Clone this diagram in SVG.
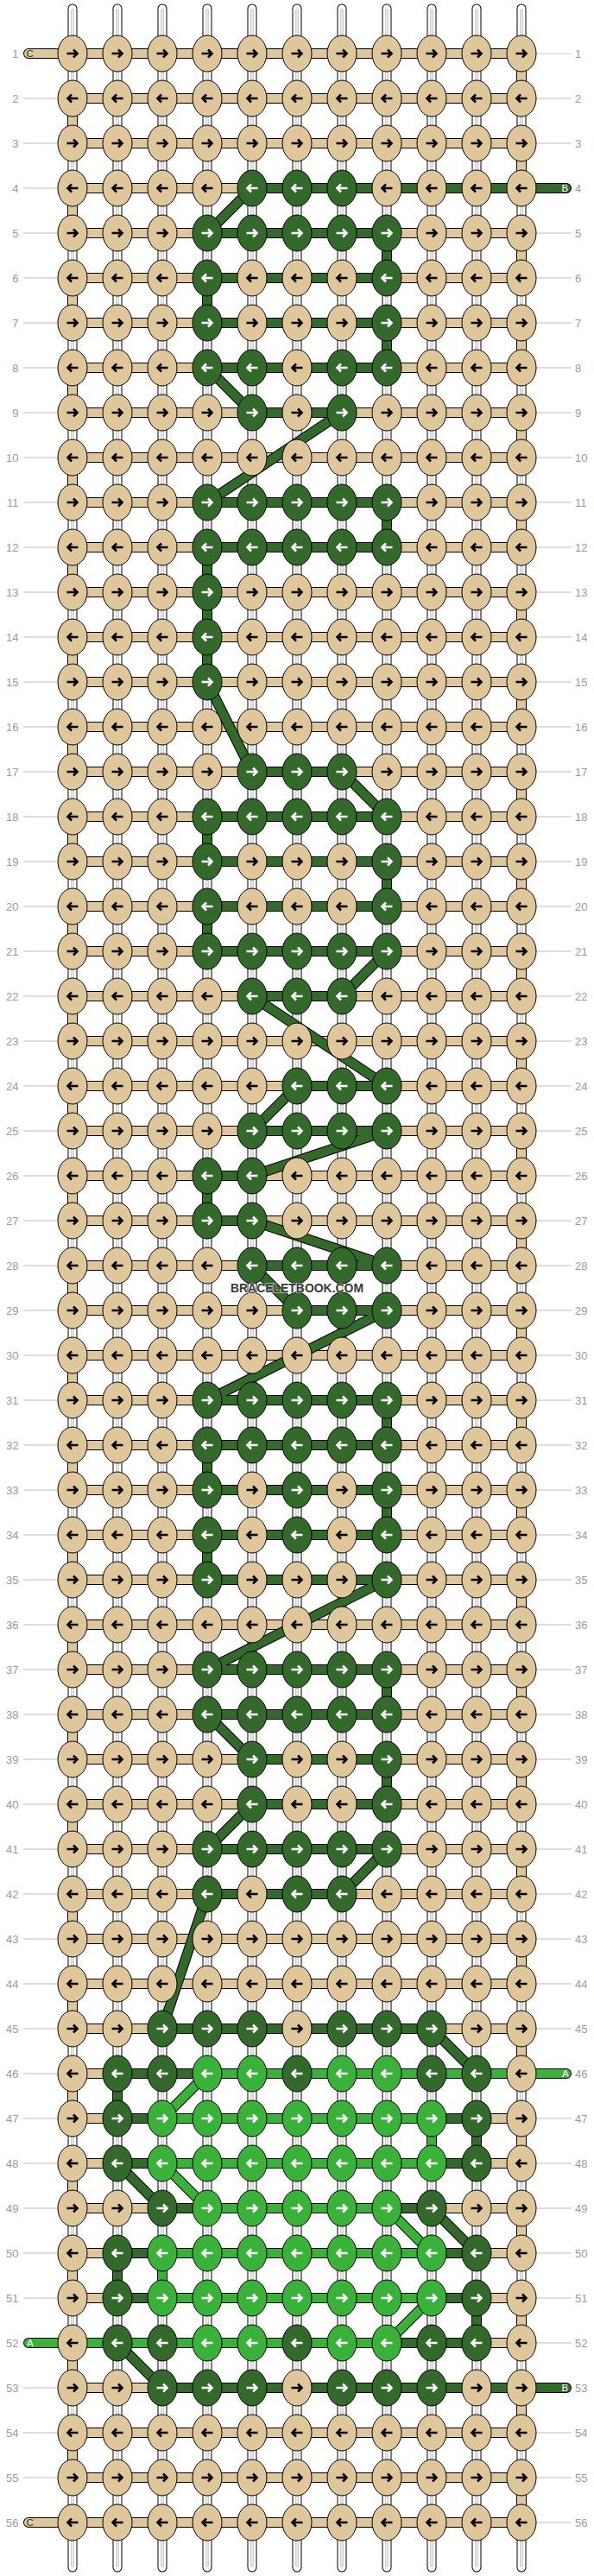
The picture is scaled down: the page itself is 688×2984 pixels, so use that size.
<svg xmlns="http://www.w3.org/2000/svg" width="688" height="2984" viewBox="0 0 688 2984">
<style>
.lbl{font-family:"Liberation Sans",Arial,sans-serif;font-size:13px;fill:#9a9a9a}
.endl{font-family:"Liberation Sans",Arial,sans-serif;font-size:11.5px}
#knots{fill:#E0C69B;color:#000}
.d{fill:#33692A;color:#fff}
.l{fill:#3AB23A;color:#fff}
.blk{fill:none;stroke:#000;stroke-linecap:round;stroke-linejoin:round}
.col{fill:none;stroke-linecap:round;stroke-linejoin:round}
</style>
<defs>
<g id="R"><ellipse rx="17" ry="21" stroke="#000" stroke-width="1"/><path d="M-6.5,0H5M1,-4.5L5.5,0L1,4.5" fill="none" stroke="currentColor" stroke-width="2.6"/></g>
<g id="L"><ellipse rx="17" ry="21" stroke="#000" stroke-width="1"/><path d="M6.5,0H-5M-1,-4.5L-5.5,0L-1,4.5" fill="none" stroke="currentColor" stroke-width="2.6"/></g>
<pattern id="lp" x="0" y="61.5" width="688" height="52" patternUnits="userSpaceOnUse"><rect x="0" y="0" width="688" height="1" fill="#bdbdbd"/></pattern>
<path id="pW" d="M84,10V2974M136,10V2974M188,10V2974M240,10V2974M292,10V2974M344,10V2974M396,10V2974M448,10V2974M500,10V2974M552,10V2974M604,10V2974"/>
<path id="pWg" d="M84,12V2972M136,12V2972M188,12V2972M240,12V2972M292,12V2972M344,12V2972M396,12V2972M448,12V2972M500,12V2972M552,12V2972M604,12V2972"/>
<path id="pC" d="M33,62H604V114H84V166H604V218H84V270H604V322H84V374H604V426H84V478H604V530H84V582H604V634H84V686H604V738H84V790H604V842H84V894H604V946H84V998H604V1050H84V1102H604V1154H84V1206H604V1258H84V1310H604V1362H84V1414H604V1466H84V1518H604V1570H84V1622H604V1674H84V1726H604V1778H84V1830H604V1882H84V1934H604V1986H84V2038H604V2090H84V2142H604V2194H84V2246H604V2298H84V2350H604V2402H84V2454H604V2506H84V2558H604V2610H84V2662H604V2714H84V2766H604V2818H84V2870H604V2922H33"/>
<path id="pB" d="M656,218H292L240,270H448V322H240V374H448V426H240L292,478H396L240,582H448V634H240V686V738V790L292,894H396L448,946H240V998H448V1050H240V1102H448L396,1154H292L448,1258H344L292,1310H448L292,1362H240V1414H292L448,1466H292L344,1518H448L240,1622H448V1674H240V1726H448V1778H240V1830H448L240,1934H448V1986H240L292,2038H448V2090H292L240,2142H448L396,2194H240L188,2350H500L552,2402H136V2454H552V2506H136L188,2558H500L552,2610H136V2662H552V2714H136L188,2766H656"/>
<path id="pA" d="M656,2402H240L188,2454H500V2506H188L240,2558H448L500,2610H188V2662H500L448,2714H33"/>
</defs>
<rect width="688" height="2984" fill="#fff"/>
<g id="row-lines">
<rect x="27" y="61.5" width="40" height="2862" fill="url(#lp)"/>
<rect x="621" y="61.5" width="41" height="2862" fill="url(#lp)"/>
</g>
<g id="row-numbers-left" class="lbl" text-anchor="end">
<text x="21.5" y="66.5">1</text><text x="21.5" y="118.5">2</text><text x="21.5" y="170.5">3</text><text x="21.5" y="222.5">4</text><text x="21.5" y="274.5">5</text><text x="21.5" y="326.5">6</text><text x="21.5" y="378.5">7</text><text x="21.5" y="430.5">8</text><text x="21.5" y="482.5">9</text><text x="21.5" y="534.5">10</text><text x="21.5" y="586.5">11</text><text x="21.5" y="638.5">12</text><text x="21.5" y="690.5">13</text><text x="21.5" y="742.5">14</text><text x="21.5" y="794.5">15</text><text x="21.5" y="846.5">16</text><text x="21.5" y="898.5">17</text><text x="21.5" y="950.5">18</text><text x="21.5" y="1002.5">19</text><text x="21.5" y="1054.5">20</text><text x="21.5" y="1106.5">21</text><text x="21.5" y="1158.5">22</text><text x="21.5" y="1210.5">23</text><text x="21.5" y="1262.5">24</text><text x="21.5" y="1314.5">25</text><text x="21.5" y="1366.5">26</text><text x="21.5" y="1418.5">27</text><text x="21.5" y="1470.5">28</text><text x="21.5" y="1522.5">29</text><text x="21.5" y="1574.5">30</text><text x="21.5" y="1626.5">31</text><text x="21.5" y="1678.5">32</text><text x="21.5" y="1730.5">33</text><text x="21.5" y="1782.5">34</text><text x="21.5" y="1834.5">35</text><text x="21.5" y="1886.5">36</text><text x="21.5" y="1938.5">37</text><text x="21.5" y="1990.5">38</text><text x="21.5" y="2042.5">39</text><text x="21.5" y="2094.5">40</text><text x="21.5" y="2146.5">41</text><text x="21.5" y="2198.5">42</text><text x="21.5" y="2250.5">43</text><text x="21.5" y="2302.5">44</text><text x="21.5" y="2354.5">45</text><text x="21.5" y="2406.5">46</text><text x="21.5" y="2458.5">47</text><text x="21.5" y="2510.5">48</text><text x="21.5" y="2562.5">49</text><text x="21.5" y="2614.5">50</text><text x="21.5" y="2666.5">51</text><text x="21.5" y="2718.5">52</text><text x="21.5" y="2770.5">53</text><text x="21.5" y="2822.5">54</text><text x="21.5" y="2874.5">55</text><text x="21.5" y="2926.5">56</text>
</g>
<g id="row-numbers-right" class="lbl" text-anchor="start">
<text x="666" y="66.5">1</text><text x="666" y="118.5">2</text><text x="666" y="170.5">3</text><text x="666" y="222.5">4</text><text x="666" y="274.5">5</text><text x="666" y="326.5">6</text><text x="666" y="378.5">7</text><text x="666" y="430.5">8</text><text x="666" y="482.5">9</text><text x="666" y="534.5">10</text><text x="666" y="586.5">11</text><text x="666" y="638.5">12</text><text x="666" y="690.5">13</text><text x="666" y="742.5">14</text><text x="666" y="794.5">15</text><text x="666" y="846.5">16</text><text x="666" y="898.5">17</text><text x="666" y="950.5">18</text><text x="666" y="1002.5">19</text><text x="666" y="1054.5">20</text><text x="666" y="1106.5">21</text><text x="666" y="1158.5">22</text><text x="666" y="1210.5">23</text><text x="666" y="1262.5">24</text><text x="666" y="1314.5">25</text><text x="666" y="1366.5">26</text><text x="666" y="1418.5">27</text><text x="666" y="1470.5">28</text><text x="666" y="1522.5">29</text><text x="666" y="1574.5">30</text><text x="666" y="1626.5">31</text><text x="666" y="1678.5">32</text><text x="666" y="1730.5">33</text><text x="666" y="1782.5">34</text><text x="666" y="1834.5">35</text><text x="666" y="1886.5">36</text><text x="666" y="1938.5">37</text><text x="666" y="1990.5">38</text><text x="666" y="2042.5">39</text><text x="666" y="2094.5">40</text><text x="666" y="2146.5">41</text><text x="666" y="2198.5">42</text><text x="666" y="2250.5">43</text><text x="666" y="2302.5">44</text><text x="666" y="2354.5">45</text><text x="666" y="2406.5">46</text><text x="666" y="2458.5">47</text><text x="666" y="2510.5">48</text><text x="666" y="2562.5">49</text><text x="666" y="2614.5">50</text><text x="666" y="2666.5">51</text><text x="666" y="2718.5">52</text><text x="666" y="2770.5">53</text><text x="666" y="2822.5">54</text><text x="666" y="2874.5">55</text><text x="666" y="2926.5">56</text>
</g>
<g id="connectors">
<g id="base-strings">
<use href="#pW" class="blk" stroke-width="11"/>
<use href="#pW" class="col" stroke="#fff" stroke-width="9"/>
<use href="#pWg" class="col" stroke="#c2c2c2" stroke-width="3.5" stroke-linecap="butt"/>
<use href="#pWg" class="col" stroke="#fff" stroke-width="1.2" stroke-linecap="butt"/>
</g>
<g id="string-C">
<use href="#pC" class="blk" stroke-width="12"/>
<use href="#pC" class="col" stroke="#E0C69B" stroke-width="10"/>
</g>
<g id="string-B">
<use href="#pB" class="blk" stroke-width="12"/>
<use href="#pB" class="col" stroke="#33692A" stroke-width="10"/>
</g>
<g id="string-A">
<use href="#pA" class="blk" stroke-width="12"/>
<use href="#pA" class="col" stroke="#3AB23A" stroke-width="10"/>
</g>
</g>
<g id="string-ends" class="endl">
<text x="30.5" y="66" fill="#333">C</text>
<text x="30.5" y="2926" fill="#333">C</text>
<text x="650.5" y="222" fill="#fff">B</text>
<text x="650.5" y="2770" fill="#fff">B</text>
<text x="651" y="2406" fill="#fff">A</text>
<text x="31" y="2718" fill="#fff">A</text>
</g>
<g id="knots">
<g id="r1" transform="translate(0,62)"><g id="k1-1"><use href="#R" x="84"/></g><g id="k1-2"><use href="#R" x="136"/></g><g id="k1-3"><use href="#R" x="188"/></g><g id="k1-4"><use href="#R" x="240"/></g><g id="k1-5"><use href="#R" x="292"/></g><g id="k1-6"><use href="#R" x="344"/></g><g id="k1-7"><use href="#R" x="396"/></g><g id="k1-8"><use href="#R" x="448"/></g><g id="k1-9"><use href="#R" x="500"/></g><g id="k1-10"><use href="#R" x="552"/></g><g id="k1-11"><use href="#R" x="604"/></g></g>
<g id="r2" transform="translate(0,114)"><g id="k2-1"><use href="#L" x="84"/></g><g id="k2-2"><use href="#L" x="136"/></g><g id="k2-3"><use href="#L" x="188"/></g><g id="k2-4"><use href="#L" x="240"/></g><g id="k2-5"><use href="#L" x="292"/></g><g id="k2-6"><use href="#L" x="344"/></g><g id="k2-7"><use href="#L" x="396"/></g><g id="k2-8"><use href="#L" x="448"/></g><g id="k2-9"><use href="#L" x="500"/></g><g id="k2-10"><use href="#L" x="552"/></g><g id="k2-11"><use href="#L" x="604"/></g></g>
<g id="r3" transform="translate(0,166)"><g id="k3-1"><use href="#R" x="84"/></g><g id="k3-2"><use href="#R" x="136"/></g><g id="k3-3"><use href="#R" x="188"/></g><g id="k3-4"><use href="#R" x="240"/></g><g id="k3-5"><use href="#R" x="292"/></g><g id="k3-6"><use href="#R" x="344"/></g><g id="k3-7"><use href="#R" x="396"/></g><g id="k3-8"><use href="#R" x="448"/></g><g id="k3-9"><use href="#R" x="500"/></g><g id="k3-10"><use href="#R" x="552"/></g><g id="k3-11"><use href="#R" x="604"/></g></g>
<g id="r4" transform="translate(0,218)"><g id="k4-1"><use href="#L" x="84"/></g><g id="k4-2"><use href="#L" x="136"/></g><g id="k4-3"><use href="#L" x="188"/></g><g id="k4-4"><use href="#L" x="240"/></g><g id="k4-5" class="d"><use href="#L" x="292"/></g><g id="k4-6" class="d"><use href="#L" x="344"/></g><g id="k4-7" class="d"><use href="#L" x="396"/></g><g id="k4-8"><use href="#L" x="448"/></g><g id="k4-9"><use href="#L" x="500"/></g><g id="k4-10"><use href="#L" x="552"/></g><g id="k4-11"><use href="#L" x="604"/></g></g>
<g id="r5" transform="translate(0,270)"><g id="k5-1"><use href="#R" x="84"/></g><g id="k5-2"><use href="#R" x="136"/></g><g id="k5-3"><use href="#R" x="188"/></g><g id="k5-4" class="d"><use href="#R" x="240"/></g><g id="k5-5" class="d"><use href="#R" x="292"/></g><g id="k5-6" class="d"><use href="#R" x="344"/></g><g id="k5-7" class="d"><use href="#R" x="396"/></g><g id="k5-8" class="d"><use href="#R" x="448"/></g><g id="k5-9"><use href="#R" x="500"/></g><g id="k5-10"><use href="#R" x="552"/></g><g id="k5-11"><use href="#R" x="604"/></g></g>
<g id="r6" transform="translate(0,322)"><g id="k6-1"><use href="#L" x="84"/></g><g id="k6-2"><use href="#L" x="136"/></g><g id="k6-3"><use href="#L" x="188"/></g><g id="k6-4" class="d"><use href="#L" x="240"/></g><g id="k6-5"><use href="#L" x="292"/></g><g id="k6-6"><use href="#L" x="344"/></g><g id="k6-7"><use href="#L" x="396"/></g><g id="k6-8" class="d"><use href="#L" x="448"/></g><g id="k6-9"><use href="#L" x="500"/></g><g id="k6-10"><use href="#L" x="552"/></g><g id="k6-11"><use href="#L" x="604"/></g></g>
<g id="r7" transform="translate(0,374)"><g id="k7-1"><use href="#R" x="84"/></g><g id="k7-2"><use href="#R" x="136"/></g><g id="k7-3"><use href="#R" x="188"/></g><g id="k7-4" class="d"><use href="#R" x="240"/></g><g id="k7-5"><use href="#R" x="292"/></g><g id="k7-6"><use href="#R" x="344"/></g><g id="k7-7"><use href="#R" x="396"/></g><g id="k7-8" class="d"><use href="#R" x="448"/></g><g id="k7-9"><use href="#R" x="500"/></g><g id="k7-10"><use href="#R" x="552"/></g><g id="k7-11"><use href="#R" x="604"/></g></g>
<g id="r8" transform="translate(0,426)"><g id="k8-1"><use href="#L" x="84"/></g><g id="k8-2"><use href="#L" x="136"/></g><g id="k8-3"><use href="#L" x="188"/></g><g id="k8-4" class="d"><use href="#L" x="240"/></g><g id="k8-5" class="d"><use href="#L" x="292"/></g><g id="k8-6"><use href="#L" x="344"/></g><g id="k8-7" class="d"><use href="#L" x="396"/></g><g id="k8-8" class="d"><use href="#L" x="448"/></g><g id="k8-9"><use href="#L" x="500"/></g><g id="k8-10"><use href="#L" x="552"/></g><g id="k8-11"><use href="#L" x="604"/></g></g>
<g id="r9" transform="translate(0,478)"><g id="k9-1"><use href="#R" x="84"/></g><g id="k9-2"><use href="#R" x="136"/></g><g id="k9-3"><use href="#R" x="188"/></g><g id="k9-4"><use href="#R" x="240"/></g><g id="k9-5" class="d"><use href="#R" x="292"/></g><g id="k9-6"><use href="#R" x="344"/></g><g id="k9-7" class="d"><use href="#R" x="396"/></g><g id="k9-8"><use href="#R" x="448"/></g><g id="k9-9"><use href="#R" x="500"/></g><g id="k9-10"><use href="#R" x="552"/></g><g id="k9-11"><use href="#R" x="604"/></g></g>
<g id="r10" transform="translate(0,530)"><g id="k10-1"><use href="#L" x="84"/></g><g id="k10-2"><use href="#L" x="136"/></g><g id="k10-3"><use href="#L" x="188"/></g><g id="k10-4"><use href="#L" x="240"/></g><g id="k10-5"><use href="#L" x="292"/></g><g id="k10-6"><use href="#L" x="344"/></g><g id="k10-7"><use href="#L" x="396"/></g><g id="k10-8"><use href="#L" x="448"/></g><g id="k10-9"><use href="#L" x="500"/></g><g id="k10-10"><use href="#L" x="552"/></g><g id="k10-11"><use href="#L" x="604"/></g></g>
<g id="r11" transform="translate(0,582)"><g id="k11-1"><use href="#R" x="84"/></g><g id="k11-2"><use href="#R" x="136"/></g><g id="k11-3"><use href="#R" x="188"/></g><g id="k11-4" class="d"><use href="#R" x="240"/></g><g id="k11-5" class="d"><use href="#R" x="292"/></g><g id="k11-6" class="d"><use href="#R" x="344"/></g><g id="k11-7" class="d"><use href="#R" x="396"/></g><g id="k11-8" class="d"><use href="#R" x="448"/></g><g id="k11-9"><use href="#R" x="500"/></g><g id="k11-10"><use href="#R" x="552"/></g><g id="k11-11"><use href="#R" x="604"/></g></g>
<g id="r12" transform="translate(0,634)"><g id="k12-1"><use href="#L" x="84"/></g><g id="k12-2"><use href="#L" x="136"/></g><g id="k12-3"><use href="#L" x="188"/></g><g id="k12-4" class="d"><use href="#L" x="240"/></g><g id="k12-5" class="d"><use href="#L" x="292"/></g><g id="k12-6" class="d"><use href="#L" x="344"/></g><g id="k12-7" class="d"><use href="#L" x="396"/></g><g id="k12-8" class="d"><use href="#L" x="448"/></g><g id="k12-9"><use href="#L" x="500"/></g><g id="k12-10"><use href="#L" x="552"/></g><g id="k12-11"><use href="#L" x="604"/></g></g>
<g id="r13" transform="translate(0,686)"><g id="k13-1"><use href="#R" x="84"/></g><g id="k13-2"><use href="#R" x="136"/></g><g id="k13-3"><use href="#R" x="188"/></g><g id="k13-4" class="d"><use href="#R" x="240"/></g><g id="k13-5"><use href="#R" x="292"/></g><g id="k13-6"><use href="#R" x="344"/></g><g id="k13-7"><use href="#R" x="396"/></g><g id="k13-8"><use href="#R" x="448"/></g><g id="k13-9"><use href="#R" x="500"/></g><g id="k13-10"><use href="#R" x="552"/></g><g id="k13-11"><use href="#R" x="604"/></g></g>
<g id="r14" transform="translate(0,738)"><g id="k14-1"><use href="#L" x="84"/></g><g id="k14-2"><use href="#L" x="136"/></g><g id="k14-3"><use href="#L" x="188"/></g><g id="k14-4" class="d"><use href="#L" x="240"/></g><g id="k14-5"><use href="#L" x="292"/></g><g id="k14-6"><use href="#L" x="344"/></g><g id="k14-7"><use href="#L" x="396"/></g><g id="k14-8"><use href="#L" x="448"/></g><g id="k14-9"><use href="#L" x="500"/></g><g id="k14-10"><use href="#L" x="552"/></g><g id="k14-11"><use href="#L" x="604"/></g></g>
<g id="r15" transform="translate(0,790)"><g id="k15-1"><use href="#R" x="84"/></g><g id="k15-2"><use href="#R" x="136"/></g><g id="k15-3"><use href="#R" x="188"/></g><g id="k15-4" class="d"><use href="#R" x="240"/></g><g id="k15-5"><use href="#R" x="292"/></g><g id="k15-6"><use href="#R" x="344"/></g><g id="k15-7"><use href="#R" x="396"/></g><g id="k15-8"><use href="#R" x="448"/></g><g id="k15-9"><use href="#R" x="500"/></g><g id="k15-10"><use href="#R" x="552"/></g><g id="k15-11"><use href="#R" x="604"/></g></g>
<g id="r16" transform="translate(0,842)"><g id="k16-1"><use href="#L" x="84"/></g><g id="k16-2"><use href="#L" x="136"/></g><g id="k16-3"><use href="#L" x="188"/></g><g id="k16-4"><use href="#L" x="240"/></g><g id="k16-5"><use href="#L" x="292"/></g><g id="k16-6"><use href="#L" x="344"/></g><g id="k16-7"><use href="#L" x="396"/></g><g id="k16-8"><use href="#L" x="448"/></g><g id="k16-9"><use href="#L" x="500"/></g><g id="k16-10"><use href="#L" x="552"/></g><g id="k16-11"><use href="#L" x="604"/></g></g>
<g id="r17" transform="translate(0,894)"><g id="k17-1"><use href="#R" x="84"/></g><g id="k17-2"><use href="#R" x="136"/></g><g id="k17-3"><use href="#R" x="188"/></g><g id="k17-4"><use href="#R" x="240"/></g><g id="k17-5" class="d"><use href="#R" x="292"/></g><g id="k17-6" class="d"><use href="#R" x="344"/></g><g id="k17-7" class="d"><use href="#R" x="396"/></g><g id="k17-8"><use href="#R" x="448"/></g><g id="k17-9"><use href="#R" x="500"/></g><g id="k17-10"><use href="#R" x="552"/></g><g id="k17-11"><use href="#R" x="604"/></g></g>
<g id="r18" transform="translate(0,946)"><g id="k18-1"><use href="#L" x="84"/></g><g id="k18-2"><use href="#L" x="136"/></g><g id="k18-3"><use href="#L" x="188"/></g><g id="k18-4" class="d"><use href="#L" x="240"/></g><g id="k18-5" class="d"><use href="#L" x="292"/></g><g id="k18-6" class="d"><use href="#L" x="344"/></g><g id="k18-7" class="d"><use href="#L" x="396"/></g><g id="k18-8" class="d"><use href="#L" x="448"/></g><g id="k18-9"><use href="#L" x="500"/></g><g id="k18-10"><use href="#L" x="552"/></g><g id="k18-11"><use href="#L" x="604"/></g></g>
<g id="r19" transform="translate(0,998)"><g id="k19-1"><use href="#R" x="84"/></g><g id="k19-2"><use href="#R" x="136"/></g><g id="k19-3"><use href="#R" x="188"/></g><g id="k19-4" class="d"><use href="#R" x="240"/></g><g id="k19-5"><use href="#R" x="292"/></g><g id="k19-6"><use href="#R" x="344"/></g><g id="k19-7"><use href="#R" x="396"/></g><g id="k19-8" class="d"><use href="#R" x="448"/></g><g id="k19-9"><use href="#R" x="500"/></g><g id="k19-10"><use href="#R" x="552"/></g><g id="k19-11"><use href="#R" x="604"/></g></g>
<g id="r20" transform="translate(0,1050)"><g id="k20-1"><use href="#L" x="84"/></g><g id="k20-2"><use href="#L" x="136"/></g><g id="k20-3"><use href="#L" x="188"/></g><g id="k20-4" class="d"><use href="#L" x="240"/></g><g id="k20-5"><use href="#L" x="292"/></g><g id="k20-6"><use href="#L" x="344"/></g><g id="k20-7"><use href="#L" x="396"/></g><g id="k20-8" class="d"><use href="#L" x="448"/></g><g id="k20-9"><use href="#L" x="500"/></g><g id="k20-10"><use href="#L" x="552"/></g><g id="k20-11"><use href="#L" x="604"/></g></g>
<g id="r21" transform="translate(0,1102)"><g id="k21-1"><use href="#R" x="84"/></g><g id="k21-2"><use href="#R" x="136"/></g><g id="k21-3"><use href="#R" x="188"/></g><g id="k21-4" class="d"><use href="#R" x="240"/></g><g id="k21-5" class="d"><use href="#R" x="292"/></g><g id="k21-6" class="d"><use href="#R" x="344"/></g><g id="k21-7" class="d"><use href="#R" x="396"/></g><g id="k21-8" class="d"><use href="#R" x="448"/></g><g id="k21-9"><use href="#R" x="500"/></g><g id="k21-10"><use href="#R" x="552"/></g><g id="k21-11"><use href="#R" x="604"/></g></g>
<g id="r22" transform="translate(0,1154)"><g id="k22-1"><use href="#L" x="84"/></g><g id="k22-2"><use href="#L" x="136"/></g><g id="k22-3"><use href="#L" x="188"/></g><g id="k22-4"><use href="#L" x="240"/></g><g id="k22-5" class="d"><use href="#L" x="292"/></g><g id="k22-6" class="d"><use href="#L" x="344"/></g><g id="k22-7" class="d"><use href="#L" x="396"/></g><g id="k22-8"><use href="#L" x="448"/></g><g id="k22-9"><use href="#L" x="500"/></g><g id="k22-10"><use href="#L" x="552"/></g><g id="k22-11"><use href="#L" x="604"/></g></g>
<g id="r23" transform="translate(0,1206)"><g id="k23-1"><use href="#R" x="84"/></g><g id="k23-2"><use href="#R" x="136"/></g><g id="k23-3"><use href="#R" x="188"/></g><g id="k23-4"><use href="#R" x="240"/></g><g id="k23-5"><use href="#R" x="292"/></g><g id="k23-6"><use href="#R" x="344"/></g><g id="k23-7"><use href="#R" x="396"/></g><g id="k23-8"><use href="#R" x="448"/></g><g id="k23-9"><use href="#R" x="500"/></g><g id="k23-10"><use href="#R" x="552"/></g><g id="k23-11"><use href="#R" x="604"/></g></g>
<g id="r24" transform="translate(0,1258)"><g id="k24-1"><use href="#L" x="84"/></g><g id="k24-2"><use href="#L" x="136"/></g><g id="k24-3"><use href="#L" x="188"/></g><g id="k24-4"><use href="#L" x="240"/></g><g id="k24-5"><use href="#L" x="292"/></g><g id="k24-6" class="d"><use href="#L" x="344"/></g><g id="k24-7" class="d"><use href="#L" x="396"/></g><g id="k24-8" class="d"><use href="#L" x="448"/></g><g id="k24-9"><use href="#L" x="500"/></g><g id="k24-10"><use href="#L" x="552"/></g><g id="k24-11"><use href="#L" x="604"/></g></g>
<g id="r25" transform="translate(0,1310)"><g id="k25-1"><use href="#R" x="84"/></g><g id="k25-2"><use href="#R" x="136"/></g><g id="k25-3"><use href="#R" x="188"/></g><g id="k25-4"><use href="#R" x="240"/></g><g id="k25-5" class="d"><use href="#R" x="292"/></g><g id="k25-6" class="d"><use href="#R" x="344"/></g><g id="k25-7" class="d"><use href="#R" x="396"/></g><g id="k25-8" class="d"><use href="#R" x="448"/></g><g id="k25-9"><use href="#R" x="500"/></g><g id="k25-10"><use href="#R" x="552"/></g><g id="k25-11"><use href="#R" x="604"/></g></g>
<g id="r26" transform="translate(0,1362)"><g id="k26-1"><use href="#L" x="84"/></g><g id="k26-2"><use href="#L" x="136"/></g><g id="k26-3"><use href="#L" x="188"/></g><g id="k26-4" class="d"><use href="#L" x="240"/></g><g id="k26-5" class="d"><use href="#L" x="292"/></g><g id="k26-6"><use href="#L" x="344"/></g><g id="k26-7"><use href="#L" x="396"/></g><g id="k26-8"><use href="#L" x="448"/></g><g id="k26-9"><use href="#L" x="500"/></g><g id="k26-10"><use href="#L" x="552"/></g><g id="k26-11"><use href="#L" x="604"/></g></g>
<g id="r27" transform="translate(0,1414)"><g id="k27-1"><use href="#R" x="84"/></g><g id="k27-2"><use href="#R" x="136"/></g><g id="k27-3"><use href="#R" x="188"/></g><g id="k27-4" class="d"><use href="#R" x="240"/></g><g id="k27-5" class="d"><use href="#R" x="292"/></g><g id="k27-6"><use href="#R" x="344"/></g><g id="k27-7"><use href="#R" x="396"/></g><g id="k27-8"><use href="#R" x="448"/></g><g id="k27-9"><use href="#R" x="500"/></g><g id="k27-10"><use href="#R" x="552"/></g><g id="k27-11"><use href="#R" x="604"/></g></g>
<g id="r28" transform="translate(0,1466)"><g id="k28-1"><use href="#L" x="84"/></g><g id="k28-2"><use href="#L" x="136"/></g><g id="k28-3"><use href="#L" x="188"/></g><g id="k28-4"><use href="#L" x="240"/></g><g id="k28-5" class="d"><use href="#L" x="292"/></g><g id="k28-6" class="d"><use href="#L" x="344"/></g><g id="k28-7" class="d"><use href="#L" x="396"/></g><g id="k28-8" class="d"><use href="#L" x="448"/></g><g id="k28-9"><use href="#L" x="500"/></g><g id="k28-10"><use href="#L" x="552"/></g><g id="k28-11"><use href="#L" x="604"/></g></g>
<g id="r29" transform="translate(0,1518)"><g id="k29-1"><use href="#R" x="84"/></g><g id="k29-2"><use href="#R" x="136"/></g><g id="k29-3"><use href="#R" x="188"/></g><g id="k29-4"><use href="#R" x="240"/></g><g id="k29-5"><use href="#R" x="292"/></g><g id="k29-6" class="d"><use href="#R" x="344"/></g><g id="k29-7" class="d"><use href="#R" x="396"/></g><g id="k29-8" class="d"><use href="#R" x="448"/></g><g id="k29-9"><use href="#R" x="500"/></g><g id="k29-10"><use href="#R" x="552"/></g><g id="k29-11"><use href="#R" x="604"/></g></g>
<g id="r30" transform="translate(0,1570)"><g id="k30-1"><use href="#L" x="84"/></g><g id="k30-2"><use href="#L" x="136"/></g><g id="k30-3"><use href="#L" x="188"/></g><g id="k30-4"><use href="#L" x="240"/></g><g id="k30-5"><use href="#L" x="292"/></g><g id="k30-6"><use href="#L" x="344"/></g><g id="k30-7"><use href="#L" x="396"/></g><g id="k30-8"><use href="#L" x="448"/></g><g id="k30-9"><use href="#L" x="500"/></g><g id="k30-10"><use href="#L" x="552"/></g><g id="k30-11"><use href="#L" x="604"/></g></g>
<g id="r31" transform="translate(0,1622)"><g id="k31-1"><use href="#R" x="84"/></g><g id="k31-2"><use href="#R" x="136"/></g><g id="k31-3"><use href="#R" x="188"/></g><g id="k31-4" class="d"><use href="#R" x="240"/></g><g id="k31-5" class="d"><use href="#R" x="292"/></g><g id="k31-6" class="d"><use href="#R" x="344"/></g><g id="k31-7" class="d"><use href="#R" x="396"/></g><g id="k31-8" class="d"><use href="#R" x="448"/></g><g id="k31-9"><use href="#R" x="500"/></g><g id="k31-10"><use href="#R" x="552"/></g><g id="k31-11"><use href="#R" x="604"/></g></g>
<g id="r32" transform="translate(0,1674)"><g id="k32-1"><use href="#L" x="84"/></g><g id="k32-2"><use href="#L" x="136"/></g><g id="k32-3"><use href="#L" x="188"/></g><g id="k32-4" class="d"><use href="#L" x="240"/></g><g id="k32-5" class="d"><use href="#L" x="292"/></g><g id="k32-6" class="d"><use href="#L" x="344"/></g><g id="k32-7" class="d"><use href="#L" x="396"/></g><g id="k32-8" class="d"><use href="#L" x="448"/></g><g id="k32-9"><use href="#L" x="500"/></g><g id="k32-10"><use href="#L" x="552"/></g><g id="k32-11"><use href="#L" x="604"/></g></g>
<g id="r33" transform="translate(0,1726)"><g id="k33-1"><use href="#R" x="84"/></g><g id="k33-2"><use href="#R" x="136"/></g><g id="k33-3"><use href="#R" x="188"/></g><g id="k33-4" class="d"><use href="#R" x="240"/></g><g id="k33-5"><use href="#R" x="292"/></g><g id="k33-6" class="d"><use href="#R" x="344"/></g><g id="k33-7"><use href="#R" x="396"/></g><g id="k33-8" class="d"><use href="#R" x="448"/></g><g id="k33-9"><use href="#R" x="500"/></g><g id="k33-10"><use href="#R" x="552"/></g><g id="k33-11"><use href="#R" x="604"/></g></g>
<g id="r34" transform="translate(0,1778)"><g id="k34-1"><use href="#L" x="84"/></g><g id="k34-2"><use href="#L" x="136"/></g><g id="k34-3"><use href="#L" x="188"/></g><g id="k34-4" class="d"><use href="#L" x="240"/></g><g id="k34-5"><use href="#L" x="292"/></g><g id="k34-6" class="d"><use href="#L" x="344"/></g><g id="k34-7"><use href="#L" x="396"/></g><g id="k34-8" class="d"><use href="#L" x="448"/></g><g id="k34-9"><use href="#L" x="500"/></g><g id="k34-10"><use href="#L" x="552"/></g><g id="k34-11"><use href="#L" x="604"/></g></g>
<g id="r35" transform="translate(0,1830)"><g id="k35-1"><use href="#R" x="84"/></g><g id="k35-2"><use href="#R" x="136"/></g><g id="k35-3"><use href="#R" x="188"/></g><g id="k35-4" class="d"><use href="#R" x="240"/></g><g id="k35-5"><use href="#R" x="292"/></g><g id="k35-6"><use href="#R" x="344"/></g><g id="k35-7"><use href="#R" x="396"/></g><g id="k35-8" class="d"><use href="#R" x="448"/></g><g id="k35-9"><use href="#R" x="500"/></g><g id="k35-10"><use href="#R" x="552"/></g><g id="k35-11"><use href="#R" x="604"/></g></g>
<g id="r36" transform="translate(0,1882)"><g id="k36-1"><use href="#L" x="84"/></g><g id="k36-2"><use href="#L" x="136"/></g><g id="k36-3"><use href="#L" x="188"/></g><g id="k36-4"><use href="#L" x="240"/></g><g id="k36-5"><use href="#L" x="292"/></g><g id="k36-6"><use href="#L" x="344"/></g><g id="k36-7"><use href="#L" x="396"/></g><g id="k36-8"><use href="#L" x="448"/></g><g id="k36-9"><use href="#L" x="500"/></g><g id="k36-10"><use href="#L" x="552"/></g><g id="k36-11"><use href="#L" x="604"/></g></g>
<g id="r37" transform="translate(0,1934)"><g id="k37-1"><use href="#R" x="84"/></g><g id="k37-2"><use href="#R" x="136"/></g><g id="k37-3"><use href="#R" x="188"/></g><g id="k37-4" class="d"><use href="#R" x="240"/></g><g id="k37-5" class="d"><use href="#R" x="292"/></g><g id="k37-6" class="d"><use href="#R" x="344"/></g><g id="k37-7" class="d"><use href="#R" x="396"/></g><g id="k37-8" class="d"><use href="#R" x="448"/></g><g id="k37-9"><use href="#R" x="500"/></g><g id="k37-10"><use href="#R" x="552"/></g><g id="k37-11"><use href="#R" x="604"/></g></g>
<g id="r38" transform="translate(0,1986)"><g id="k38-1"><use href="#L" x="84"/></g><g id="k38-2"><use href="#L" x="136"/></g><g id="k38-3"><use href="#L" x="188"/></g><g id="k38-4" class="d"><use href="#L" x="240"/></g><g id="k38-5" class="d"><use href="#L" x="292"/></g><g id="k38-6" class="d"><use href="#L" x="344"/></g><g id="k38-7" class="d"><use href="#L" x="396"/></g><g id="k38-8" class="d"><use href="#L" x="448"/></g><g id="k38-9"><use href="#L" x="500"/></g><g id="k38-10"><use href="#L" x="552"/></g><g id="k38-11"><use href="#L" x="604"/></g></g>
<g id="r39" transform="translate(0,2038)"><g id="k39-1"><use href="#R" x="84"/></g><g id="k39-2"><use href="#R" x="136"/></g><g id="k39-3"><use href="#R" x="188"/></g><g id="k39-4"><use href="#R" x="240"/></g><g id="k39-5" class="d"><use href="#R" x="292"/></g><g id="k39-6"><use href="#R" x="344"/></g><g id="k39-7"><use href="#R" x="396"/></g><g id="k39-8" class="d"><use href="#R" x="448"/></g><g id="k39-9"><use href="#R" x="500"/></g><g id="k39-10"><use href="#R" x="552"/></g><g id="k39-11"><use href="#R" x="604"/></g></g>
<g id="r40" transform="translate(0,2090)"><g id="k40-1"><use href="#L" x="84"/></g><g id="k40-2"><use href="#L" x="136"/></g><g id="k40-3"><use href="#L" x="188"/></g><g id="k40-4"><use href="#L" x="240"/></g><g id="k40-5" class="d"><use href="#L" x="292"/></g><g id="k40-6"><use href="#L" x="344"/></g><g id="k40-7"><use href="#L" x="396"/></g><g id="k40-8" class="d"><use href="#L" x="448"/></g><g id="k40-9"><use href="#L" x="500"/></g><g id="k40-10"><use href="#L" x="552"/></g><g id="k40-11"><use href="#L" x="604"/></g></g>
<g id="r41" transform="translate(0,2142)"><g id="k41-1"><use href="#R" x="84"/></g><g id="k41-2"><use href="#R" x="136"/></g><g id="k41-3"><use href="#R" x="188"/></g><g id="k41-4" class="d"><use href="#R" x="240"/></g><g id="k41-5" class="d"><use href="#R" x="292"/></g><g id="k41-6" class="d"><use href="#R" x="344"/></g><g id="k41-7" class="d"><use href="#R" x="396"/></g><g id="k41-8" class="d"><use href="#R" x="448"/></g><g id="k41-9"><use href="#R" x="500"/></g><g id="k41-10"><use href="#R" x="552"/></g><g id="k41-11"><use href="#R" x="604"/></g></g>
<g id="r42" transform="translate(0,2194)"><g id="k42-1"><use href="#L" x="84"/></g><g id="k42-2"><use href="#L" x="136"/></g><g id="k42-3"><use href="#L" x="188"/></g><g id="k42-4" class="d"><use href="#L" x="240"/></g><g id="k42-5"><use href="#L" x="292"/></g><g id="k42-6" class="d"><use href="#L" x="344"/></g><g id="k42-7" class="d"><use href="#L" x="396"/></g><g id="k42-8"><use href="#L" x="448"/></g><g id="k42-9"><use href="#L" x="500"/></g><g id="k42-10"><use href="#L" x="552"/></g><g id="k42-11"><use href="#L" x="604"/></g></g>
<g id="r43" transform="translate(0,2246)"><g id="k43-1"><use href="#R" x="84"/></g><g id="k43-2"><use href="#R" x="136"/></g><g id="k43-3"><use href="#R" x="188"/></g><g id="k43-4"><use href="#R" x="240"/></g><g id="k43-5"><use href="#R" x="292"/></g><g id="k43-6"><use href="#R" x="344"/></g><g id="k43-7"><use href="#R" x="396"/></g><g id="k43-8"><use href="#R" x="448"/></g><g id="k43-9"><use href="#R" x="500"/></g><g id="k43-10"><use href="#R" x="552"/></g><g id="k43-11"><use href="#R" x="604"/></g></g>
<g id="r44" transform="translate(0,2298)"><g id="k44-1"><use href="#L" x="84"/></g><g id="k44-2"><use href="#L" x="136"/></g><g id="k44-3"><use href="#L" x="188"/></g><g id="k44-4"><use href="#L" x="240"/></g><g id="k44-5"><use href="#L" x="292"/></g><g id="k44-6"><use href="#L" x="344"/></g><g id="k44-7"><use href="#L" x="396"/></g><g id="k44-8"><use href="#L" x="448"/></g><g id="k44-9"><use href="#L" x="500"/></g><g id="k44-10"><use href="#L" x="552"/></g><g id="k44-11"><use href="#L" x="604"/></g></g>
<g id="r45" transform="translate(0,2350)"><g id="k45-1"><use href="#R" x="84"/></g><g id="k45-2"><use href="#R" x="136"/></g><g id="k45-3" class="d"><use href="#R" x="188"/></g><g id="k45-4" class="d"><use href="#R" x="240"/></g><g id="k45-5" class="d"><use href="#R" x="292"/></g><g id="k45-6"><use href="#R" x="344"/></g><g id="k45-7" class="d"><use href="#R" x="396"/></g><g id="k45-8" class="d"><use href="#R" x="448"/></g><g id="k45-9" class="d"><use href="#R" x="500"/></g><g id="k45-10"><use href="#R" x="552"/></g><g id="k45-11"><use href="#R" x="604"/></g></g>
<g id="r46" transform="translate(0,2402)"><g id="k46-1"><use href="#L" x="84"/></g><g id="k46-2" class="d"><use href="#L" x="136"/></g><g id="k46-3" class="d"><use href="#L" x="188"/></g><g id="k46-4" class="l"><use href="#L" x="240"/></g><g id="k46-5" class="l"><use href="#L" x="292"/></g><g id="k46-6" class="d"><use href="#L" x="344"/></g><g id="k46-7" class="l"><use href="#L" x="396"/></g><g id="k46-8" class="l"><use href="#L" x="448"/></g><g id="k46-9" class="d"><use href="#L" x="500"/></g><g id="k46-10" class="d"><use href="#L" x="552"/></g><g id="k46-11"><use href="#L" x="604"/></g></g>
<g id="r47" transform="translate(0,2454)"><g id="k47-1"><use href="#R" x="84"/></g><g id="k47-2" class="d"><use href="#R" x="136"/></g><g id="k47-3" class="l"><use href="#R" x="188"/></g><g id="k47-4" class="l"><use href="#R" x="240"/></g><g id="k47-5" class="l"><use href="#R" x="292"/></g><g id="k47-6" class="l"><use href="#R" x="344"/></g><g id="k47-7" class="l"><use href="#R" x="396"/></g><g id="k47-8" class="l"><use href="#R" x="448"/></g><g id="k47-9" class="l"><use href="#R" x="500"/></g><g id="k47-10" class="d"><use href="#R" x="552"/></g><g id="k47-11"><use href="#R" x="604"/></g></g>
<g id="r48" transform="translate(0,2506)"><g id="k48-1"><use href="#L" x="84"/></g><g id="k48-2" class="d"><use href="#L" x="136"/></g><g id="k48-3" class="l"><use href="#L" x="188"/></g><g id="k48-4" class="l"><use href="#L" x="240"/></g><g id="k48-5" class="l"><use href="#L" x="292"/></g><g id="k48-6" class="l"><use href="#L" x="344"/></g><g id="k48-7" class="l"><use href="#L" x="396"/></g><g id="k48-8" class="l"><use href="#L" x="448"/></g><g id="k48-9" class="l"><use href="#L" x="500"/></g><g id="k48-10" class="d"><use href="#L" x="552"/></g><g id="k48-11"><use href="#L" x="604"/></g></g>
<g id="r49" transform="translate(0,2558)"><g id="k49-1"><use href="#R" x="84"/></g><g id="k49-2"><use href="#R" x="136"/></g><g id="k49-3" class="d"><use href="#R" x="188"/></g><g id="k49-4" class="l"><use href="#R" x="240"/></g><g id="k49-5" class="l"><use href="#R" x="292"/></g><g id="k49-6" class="l"><use href="#R" x="344"/></g><g id="k49-7" class="l"><use href="#R" x="396"/></g><g id="k49-8" class="l"><use href="#R" x="448"/></g><g id="k49-9" class="d"><use href="#R" x="500"/></g><g id="k49-10"><use href="#R" x="552"/></g><g id="k49-11"><use href="#R" x="604"/></g></g>
<g id="r50" transform="translate(0,2610)"><g id="k50-1"><use href="#L" x="84"/></g><g id="k50-2" class="d"><use href="#L" x="136"/></g><g id="k50-3" class="l"><use href="#L" x="188"/></g><g id="k50-4" class="l"><use href="#L" x="240"/></g><g id="k50-5" class="l"><use href="#L" x="292"/></g><g id="k50-6" class="l"><use href="#L" x="344"/></g><g id="k50-7" class="l"><use href="#L" x="396"/></g><g id="k50-8" class="l"><use href="#L" x="448"/></g><g id="k50-9" class="l"><use href="#L" x="500"/></g><g id="k50-10" class="d"><use href="#L" x="552"/></g><g id="k50-11"><use href="#L" x="604"/></g></g>
<g id="r51" transform="translate(0,2662)"><g id="k51-1"><use href="#R" x="84"/></g><g id="k51-2" class="d"><use href="#R" x="136"/></g><g id="k51-3" class="l"><use href="#R" x="188"/></g><g id="k51-4" class="l"><use href="#R" x="240"/></g><g id="k51-5" class="l"><use href="#R" x="292"/></g><g id="k51-6" class="l"><use href="#R" x="344"/></g><g id="k51-7" class="l"><use href="#R" x="396"/></g><g id="k51-8" class="l"><use href="#R" x="448"/></g><g id="k51-9" class="l"><use href="#R" x="500"/></g><g id="k51-10" class="d"><use href="#R" x="552"/></g><g id="k51-11"><use href="#R" x="604"/></g></g>
<g id="r52" transform="translate(0,2714)"><g id="k52-1"><use href="#L" x="84"/></g><g id="k52-2" class="d"><use href="#L" x="136"/></g><g id="k52-3" class="d"><use href="#L" x="188"/></g><g id="k52-4" class="l"><use href="#L" x="240"/></g><g id="k52-5" class="l"><use href="#L" x="292"/></g><g id="k52-6" class="d"><use href="#L" x="344"/></g><g id="k52-7" class="l"><use href="#L" x="396"/></g><g id="k52-8" class="l"><use href="#L" x="448"/></g><g id="k52-9" class="d"><use href="#L" x="500"/></g><g id="k52-10" class="d"><use href="#L" x="552"/></g><g id="k52-11"><use href="#L" x="604"/></g></g>
<g id="r53" transform="translate(0,2766)"><g id="k53-1"><use href="#R" x="84"/></g><g id="k53-2"><use href="#R" x="136"/></g><g id="k53-3" class="d"><use href="#R" x="188"/></g><g id="k53-4" class="d"><use href="#R" x="240"/></g><g id="k53-5" class="d"><use href="#R" x="292"/></g><g id="k53-6"><use href="#R" x="344"/></g><g id="k53-7" class="d"><use href="#R" x="396"/></g><g id="k53-8" class="d"><use href="#R" x="448"/></g><g id="k53-9" class="d"><use href="#R" x="500"/></g><g id="k53-10"><use href="#R" x="552"/></g><g id="k53-11"><use href="#R" x="604"/></g></g>
<g id="r54" transform="translate(0,2818)"><g id="k54-1"><use href="#L" x="84"/></g><g id="k54-2"><use href="#L" x="136"/></g><g id="k54-3"><use href="#L" x="188"/></g><g id="k54-4"><use href="#L" x="240"/></g><g id="k54-5"><use href="#L" x="292"/></g><g id="k54-6"><use href="#L" x="344"/></g><g id="k54-7"><use href="#L" x="396"/></g><g id="k54-8"><use href="#L" x="448"/></g><g id="k54-9"><use href="#L" x="500"/></g><g id="k54-10"><use href="#L" x="552"/></g><g id="k54-11"><use href="#L" x="604"/></g></g>
<g id="r55" transform="translate(0,2870)"><g id="k55-1"><use href="#R" x="84"/></g><g id="k55-2"><use href="#R" x="136"/></g><g id="k55-3"><use href="#R" x="188"/></g><g id="k55-4"><use href="#R" x="240"/></g><g id="k55-5"><use href="#R" x="292"/></g><g id="k55-6"><use href="#R" x="344"/></g><g id="k55-7"><use href="#R" x="396"/></g><g id="k55-8"><use href="#R" x="448"/></g><g id="k55-9"><use href="#R" x="500"/></g><g id="k55-10"><use href="#R" x="552"/></g><g id="k55-11"><use href="#R" x="604"/></g></g>
<g id="r56" transform="translate(0,2922)"><g id="k56-1"><use href="#L" x="84"/></g><g id="k56-2"><use href="#L" x="136"/></g><g id="k56-3"><use href="#L" x="188"/></g><g id="k56-4"><use href="#L" x="240"/></g><g id="k56-5"><use href="#L" x="292"/></g><g id="k56-6"><use href="#L" x="344"/></g><g id="k56-7"><use href="#L" x="396"/></g><g id="k56-8"><use href="#L" x="448"/></g><g id="k56-9"><use href="#L" x="500"/></g><g id="k56-10"><use href="#L" x="552"/></g><g id="k56-11"><use href="#L" x="604"/></g></g>
</g>
<text id="watermark" x="344" y="1497" text-anchor="middle" textLength="154" lengthAdjust="spacingAndGlyphs" style="font-family:'Liberation Sans',Arial,sans-serif;font-weight:bold;font-size:15.5px;fill:#3a3a3a;stroke:#fff;stroke-width:1.5;paint-order:stroke;stroke-opacity:0.6">BRACELETBOOK.COM</text>
</svg>
